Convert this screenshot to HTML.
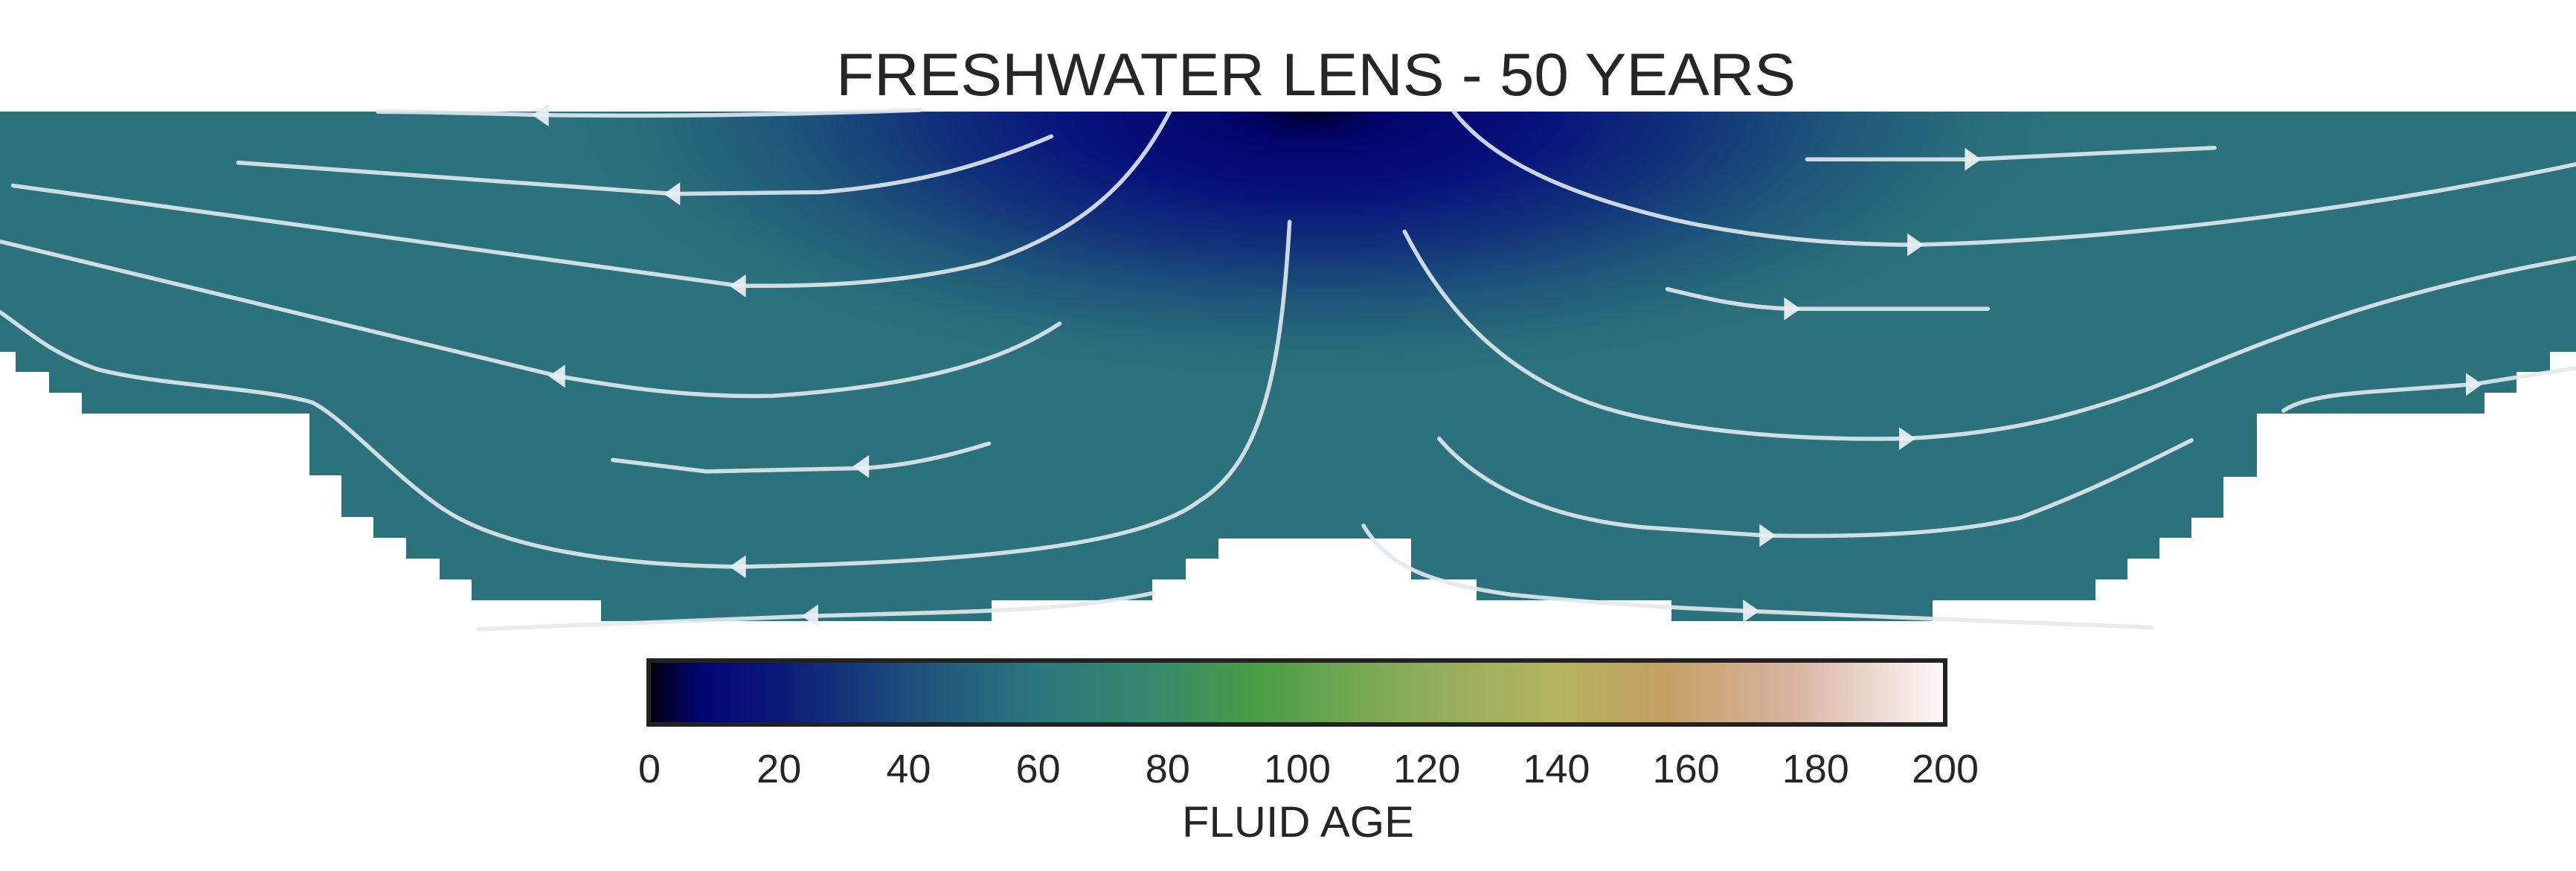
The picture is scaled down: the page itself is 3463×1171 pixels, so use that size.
<!DOCTYPE html>
<html><head><meta charset="utf-8"><style>
html,body{margin:0;padding:0;background:#fff;}
svg{display:block;font-family:"Liberation Sans",Arial,sans-serif;}
</style></head><body>
<svg id="chart" width="3463" height="1171" viewBox="0 0 3463 1171" xmlns="http://www.w3.org/2000/svg">
<defs>
<radialGradient id="ageGrad" gradientUnits="userSpaceOnUse" cx="0" cy="0" r="1" gradientTransform="translate(1760,150) scale(1000,360)">
<stop offset="0" stop-color="#00002e"/>
<stop offset="0.1" stop-color="#010468"/>
<stop offset="0.3" stop-color="#05107c"/>
<stop offset="0.5" stop-color="#10307a"/>
<stop offset="0.72" stop-color="#1f587a"/>
<stop offset="0.9" stop-color="#296d7b"/>
<stop offset="1" stop-color="#2b727c"/>
</radialGradient>
<linearGradient id="cmap" x1="0" x2="1" y1="0" y2="0">
<stop offset="0" stop-color="#000010"/>
<stop offset="0.04" stop-color="#020575"/>
<stop offset="0.1" stop-color="#0a1a78"/>
<stop offset="0.2" stop-color="#1d4e7c"/>
<stop offset="0.3" stop-color="#2b787e"/>
<stop offset="0.38" stop-color="#34876f"/>
<stop offset="0.47" stop-color="#4a9e45"/>
<stop offset="0.58" stop-color="#87ab59"/>
<stop offset="0.7" stop-color="#b5b560"/>
<stop offset="0.78" stop-color="#c4a062"/>
<stop offset="0.88" stop-color="#d8b29e"/>
<stop offset="1" stop-color="#fdf8f8"/>
</linearGradient>
</defs>

<text x="1769" y="128" font-size="81" fill="#262626" text-anchor="middle" textLength="1290" lengthAdjust="spacingAndGlyphs">FRESHWATER LENS - 50 YEARS</text>

<polygon fill="url(#ageGrad)" points="0,150 3463,150 3463,473 3428,473 3428,500 3383,500 3383,528 3340,528 3340,556 3034,556 3034,641 2989,641 2989,696 2946,696 2946,723 2903,723 2903,751 2860,751 2860,779 2817,779 2817,807 2598,807 2598,835 2247,835 2247,807 1985,807 1985,779 1897,779 1897,724 1638,724 1638,751 1594,751 1594,779 1549,779 1549,807 1333,807 1333,835 808,835 808,807 634,807 634,779 591,779 591,751 546,751 546,723 502,723 502,695 459,695 459,639 416,639 416,556 110,556 110,528 66,528 66,500 21,500 21,473 0,473"/>

<g transform="scale(2.2085)" fill="none" stroke="#e2e9ee" stroke-opacity="0.9" stroke-width="2.5" stroke-linecap="round">
<path d="M560,67 C470,70 400,71 330,70 C290,69 260,68 230,68"/>
<path d="M640,83 C600,100 560,112 500,117 L410,118 L145,99"/>
<path d="M712,68 C690,110 660,140 600,160 C540,175 480,174 450,174 L8,113"/>
<path d="M645,197 C610,220 560,235 470,241 C420,242 380,236 340,229 L0,147"/>
<path d="M785,135 C780,220 770,280 730,305 C700,328 620,342 450,345 C360,344 300,330 270,310 C240,290 210,255 190,245 C160,236 100,235 60,225 C30,215 15,200 0,190"/>
<path d="M602,270 C570,280 545,284 525,285 L430,287 L373,280"/>
<path d="M702,361 C650,372 600,372 494,375 L291,383"/>
<path d="M885,68 C910,100 960,120 1020,134 C1070,145 1120,149 1165,149 C1300,146 1450,125 1568,100"/>
<path d="M1100,97 L1200,97 L1348,90"/>
<path d="M1015,176 C1040,182 1060,187 1090,188 L1210,188"/>
<path d="M855,141 C880,190 920,235 990,252 C1040,264 1100,268 1160,267 C1220,264 1260,254 1310,236 C1380,208 1440,180 1568,157"/>
<path d="M1390,250 C1400,243 1420,240 1450,238 L1505,234 L1568,224"/>
<path d="M876,267 C900,295 940,315 1000,321 L1075,326 C1130,327 1190,325 1230,315 C1270,300 1300,285 1334,268"/>
<path d="M830,320 C845,345 870,355 920,362 C980,368 1020,370 1065,372 L1160,376 L1310,382"/>
</g>

<g id="arrows" transform="scale(2.2085)" fill="#e8eef2" fill-opacity="0.95"></g>

<g>
<rect x="869" y="885" width="1749" height="92" fill="#222"/>
<rect x="875" y="891" width="1737" height="80" fill="url(#cmap)"/>
</g>
<g id="ticks" font-size="54" fill="#262626" text-anchor="middle"></g>
<text x="1745" y="1125" font-size="58" fill="#262626" text-anchor="middle" textLength="312" lengthAdjust="spacingAndGlyphs">FLUID AGE</text>
</svg>
<script>
const tickValues = [0, 20, 40, 60, 80, 100, 120, 140, 160, 180, 200];
const tickLabels = ["0", "20", "40", "60", "80", "100", "120", "140", "160", "180", "200"];
const ageMin = 0;
const ageMax = 200;
function xAge(v){ return 873 + (v - ageMin) / (ageMax - ageMin) * (2615 - 873); }
const NS = "http://www.w3.org/2000/svg";
const tg = document.getElementById('ticks');
tickValues.forEach((v, i) => {
  const t = document.createElementNS(NS, 'text');
  t.setAttribute('x', xAge(v));
  t.setAttribute('y', 1052);
  t.textContent = tickLabels[i];
  
  
  tg.appendChild(t);
});
const arrowX = [330, 410, 450, 340, 450, 525, 494, 1165, 1200, 1090, 1160, 1505, 1075, 1065];
const arrowY = [70, 118, 174, 229, 345, 284, 375, 149, 97, 188, 267, 234, 326, 372];
const arrowDir = [-1, -1, -1, -1, -1, -1, -1, 1, 1, 1, 1, 1, 1, 1];
const ag = document.getElementById('arrows');
arrowX.forEach((x, i) => {
  const y = arrowY[i], d = arrowDir[i];
  const p = document.createElementNS(NS, 'polygon');
  p.setAttribute('points', `${x + d*6},${y} ${x - d*4},${y - 7} ${x - d*4},${y + 7}`);
  
  
  ag.appendChild(p);
});
</script>
</body></html>
